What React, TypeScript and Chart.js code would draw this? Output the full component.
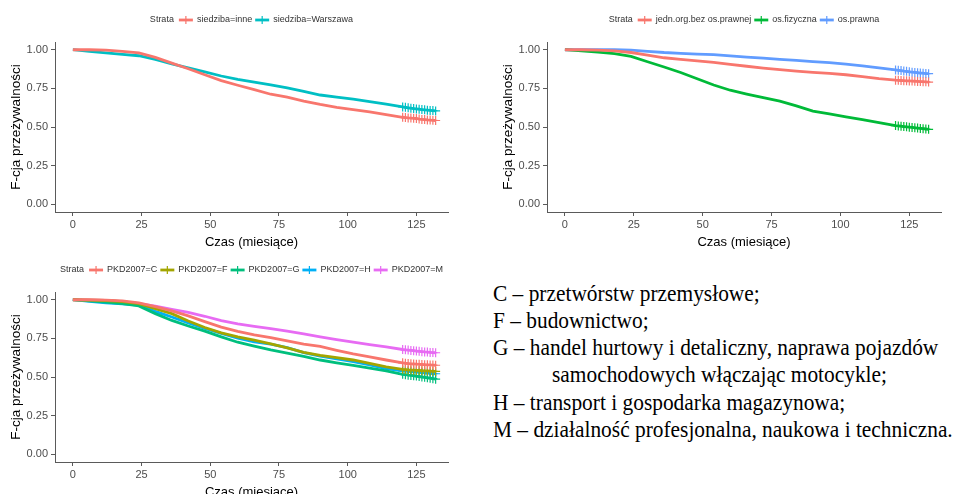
import React, { useEffect, useRef } from "react";
import { Chart, registerables } from "chart.js";

Chart.register(...registerables);

// ---------- data ----------
const xTicks = [0, 25, 50, 75, 100, 125];
const yTicks = [0, 0.25, 0.5, 0.75, 1];
const censorStart = 120;
const times = [0, 6, 12, 18, 24, 30, 36, 42, 48, 54, 60, 66, 72, 78, 84, 90, 96, 102, 108, 114,
  120, 121, 122, 123, 124, 125, 126, 127, 128, 129, 130, 131, 132];

const xTitle = "Czas (miesiące)";
const yTitle = "F-cja przeżywalności";

// panel 1: siedziba
const siedzibaInne = [1.0, 1.0, 0.998, 0.99, 0.98, 0.95, 0.913, 0.877, 0.838, 0.8, 0.77, 0.742, 0.712, 0.693, 0.668, 0.646, 0.627, 0.613, 0.598, 0.58,
  0.563, 0.561, 0.559, 0.558, 0.556, 0.555, 0.551, 0.549, 0.548, 0.546, 0.545, 0.543, 0.542];
const siedzibaWarszawa = [1.0, 0.99, 0.979, 0.97, 0.961, 0.937, 0.908, 0.882, 0.857, 0.83, 0.808, 0.79, 0.772, 0.753, 0.73, 0.707, 0.694, 0.68, 0.664, 0.648,
  0.63, 0.627, 0.624, 0.622, 0.619, 0.617, 0.615, 0.613, 0.611, 0.609, 0.607, 0.606, 0.604];

// panel 2: forma prawna
const jednOrg = [1.0, 1.0, 0.997, 0.992, 0.982, 0.965, 0.948, 0.937, 0.928, 0.918, 0.905, 0.893, 0.881, 0.871, 0.862, 0.854, 0.847, 0.838, 0.826, 0.813,
  0.803, 0.802, 0.801, 0.8, 0.799, 0.798, 0.797, 0.796, 0.795, 0.794, 0.793, 0.792, 0.791];
const osFizyczna = [1.0, 0.993, 0.985, 0.975, 0.957, 0.922, 0.888, 0.853, 0.812, 0.772, 0.738, 0.713, 0.69, 0.668, 0.637, 0.603, 0.585, 0.566, 0.548, 0.528,
  0.509, 0.507, 0.505, 0.503, 0.501, 0.499, 0.497, 0.495, 0.493, 0.491, 0.489, 0.487, 0.485];
const osPrawna = [1.0, 1.0, 1.0, 1.0, 0.998, 0.99, 0.982, 0.977, 0.972, 0.968, 0.96, 0.952, 0.945, 0.937, 0.931, 0.923, 0.916, 0.907, 0.896, 0.882,
  0.869, 0.867, 0.865, 0.862, 0.86, 0.857, 0.855, 0.853, 0.851, 0.849, 0.848, 0.846, 0.845];

// panel 3: PKD2007
const pkdC = [1.0, 1.0, 0.997, 0.992, 0.98, 0.955, 0.928, 0.895, 0.858, 0.823, 0.795, 0.772, 0.755, 0.733, 0.713, 0.698, 0.673, 0.65, 0.63, 0.61,
  0.592, 0.589, 0.587, 0.585, 0.584, 0.583, 0.582, 0.581, 0.58, 0.579, 0.578, 0.577, 0.576];
const pkdF = [1.0, 0.998, 0.995, 0.988, 0.975, 0.943, 0.91, 0.862, 0.82, 0.785, 0.76, 0.738, 0.715, 0.688, 0.66, 0.64, 0.625, 0.61, 0.588, 0.565,
  0.55, 0.548, 0.546, 0.545, 0.544, 0.543, 0.542, 0.541, 0.54, 0.539, 0.538, 0.537, 0.536];
const pkdG = [1.0, 0.992, 0.985, 0.975, 0.96, 0.91, 0.866, 0.83, 0.797, 0.76, 0.725, 0.7, 0.675, 0.655, 0.633, 0.61, 0.592, 0.575, 0.558, 0.54,
  0.517, 0.515, 0.512, 0.51, 0.508, 0.506, 0.503, 0.5, 0.498, 0.495, 0.492, 0.489, 0.486];
const pkdH = [1.0, 0.99, 0.98, 0.973, 0.965, 0.925, 0.888, 0.85, 0.815, 0.782, 0.752, 0.728, 0.712, 0.69, 0.658, 0.635, 0.617, 0.6, 0.578, 0.555,
  0.54, 0.538, 0.536, 0.535, 0.533, 0.532, 0.53, 0.529, 0.527, 0.526, 0.524, 0.522, 0.521];
const pkdM = [1.0, 0.998, 0.995, 0.988, 0.975, 0.958, 0.937, 0.918, 0.893, 0.865, 0.843, 0.828, 0.813, 0.797, 0.779, 0.76, 0.742, 0.725, 0.71, 0.695,
  0.678, 0.676, 0.674, 0.672, 0.67, 0.668, 0.666, 0.664, 0.662, 0.661, 0.659, 0.658, 0.657];

const panel1Series = [
  { label: "siedziba=inne", color: "#F8766D", values: siedzibaInne },
  { label: "siedziba=Warszawa", color: "#00BFC4", values: siedzibaWarszawa },
];
const panel2Series = [
  { label: "jedn.org.bez os.prawnej", color: "#F8766D", values: jednOrg },
  { label: "os.fizyczna", color: "#00BA38", values: osFizyczna },
  { label: "os.prawna", color: "#619CFF", values: osPrawna },
];
const panel3Series = [
  { label: "PKD2007=C", color: "#F8766D", values: pkdC },
  { label: "PKD2007=F", color: "#A3A500", values: pkdF },
  { label: "PKD2007=G", color: "#00BF7D", values: pkdG },
  { label: "PKD2007=H", color: "#00B0F6", values: pkdH },
  { label: "PKD2007=M", color: "#E76BF3", values: pkdM },
];

const legendTitle = "Strata";

const textLines = [
  { text: "C – przetwórstw przemysłowe;", indent: 0 },
  { text: "F – budownictwo;", indent: 0 },
  { text: "G – handel hurtowy i detaliczny, naprawa pojazdów", indent: 0 },
  { text: "samochodowych włączając motocykle;", indent: 59 },
  { text: "H – transport i gospodarka magazynowa;", indent: 0 },
  { text: "M – działalność profesjonalna, naukowa i techniczna.", indent: 0 },
];

// ---------- chart helpers ----------
const SANS = '"Liberation Sans", Arial, sans-serif';

const strataLegend = {
  id: "strataLegend",
  afterDraw(chart: any) {
    const ctx = chart.ctx;
    const { left, right } = chart.chartArea;
    const y = 20;
    ctx.save();
    ctx.font = `9px ${SANS}`;
    ctx.textBaseline = "middle";
    ctx.textAlign = "left";
    const items = chart.data.datasets.map((d: any) => ({ label: d.label, color: d.borderColor }));
    const keyW = 14, gapTitle = 5, gapKey = 4, gapItem = 3;
    const tw = ctx.measureText(legendTitle).width;
    let total = tw + gapTitle;
    items.forEach((it: any, i: number) => {
      total += keyW + gapKey + ctx.measureText(it.label).width + (i < items.length - 1 ? gapItem : 0);
    });
    let x = (left + right) / 2 - total / 2;
    ctx.fillStyle = "#333333";
    ctx.fillText(legendTitle, x, y);
    x += tw + gapTitle;
    items.forEach((it: any) => {
      ctx.strokeStyle = it.color;
      ctx.lineWidth = 2.8;
      ctx.beginPath();
      ctx.moveTo(x, y);
      ctx.lineTo(x + keyW, y);
      ctx.stroke();
      ctx.lineWidth = 1.2;
      ctx.beginPath();
      ctx.moveTo(x + keyW / 2, y - 4);
      ctx.lineTo(x + keyW / 2, y + 4);
      ctx.stroke();
      x += keyW + gapKey;
      ctx.fillStyle = "#333333";
      ctx.fillText(it.label, x, y);
      x += ctx.measureText(it.label).width + gapItem;
    });
    ctx.restore();
  },
};

type Series = { label: string; color: string; values: number[] };

function Panel(props: { left: number; top: number; width: number; height: number; padRight: number; series: Series[] }) {
  const { left, top, width, height, padRight, series } = props;
  const ref = useRef<HTMLCanvasElement>(null);
  useEffect(() => {
    const axisColor = "#5a5a5a";
    const chart = new Chart(ref.current as HTMLCanvasElement, {
      type: "line",
      data: {
        datasets: series.map((s) => ({
          label: s.label,
          data: times.map((t, i) => ({ x: t, y: s.values[i] })),
          borderColor: s.color,
          backgroundColor: s.color,
          borderWidth: 2.8,
          tension: 0,
          fill: false,
          pointStyle: "cross",
          pointRadius: (c: any) => (c.raw && c.raw.x >= censorStart ? 4.5 : 0),
          pointHoverRadius: 0,
          pointBorderWidth: 1.2,
          pointBorderColor: s.color,
        })),
      },
      options: {
        responsive: false,
        animation: false,
        events: [],
        layout: { padding: { top: 42, right: padRight, bottom: 0, left: 0 } },
        plugins: { legend: { display: false }, tooltip: { enabled: false } },
        scales: {
          x: {
            type: "linear",
            min: -6.5,
            max: 136.5,
            afterBuildTicks: (s: any) => {
              s.ticks = xTicks.map((v) => ({ value: v }));
            },
            afterFit: (s: any) => {
              s.height = 38;
            },
            ticks: { font: { size: 11, family: SANS }, color: "#4D4D4D", padding: 2, maxRotation: 0 },
            grid: { drawOnChartArea: false, drawTicks: true, tickLength: 4, color: axisColor },
            border: { display: true, color: axisColor, width: 1 },
            title: { display: true, text: xTitle, color: "#000", font: { size: 13, family: SANS }, padding: { top: 3, bottom: 0 } },
          },
          y: {
            type: "linear",
            min: -0.05,
            max: 1.05,
            afterBuildTicks: (s: any) => {
              s.ticks = yTicks.map((v) => ({ value: v }));
            },
            afterFit: (s: any) => {
              s.width = 55;
            },
            ticks: {
              font: { size: 11, family: SANS },
              color: "#4D4D4D",
              padding: 3,
              callback: (v: any) => Number(v).toFixed(2),
            },
            grid: { drawOnChartArea: false, drawTicks: true, tickLength: 4, color: axisColor },
            border: { display: true, color: axisColor, width: 1 },
            title: { display: true, text: yTitle, color: "#000", font: { size: 13.5, family: SANS }, padding: { top: 8, bottom: 0 } },
          },
        },
      } as any,
      plugins: [strataLegend],
    });
    return () => chart.destroy();
  }, []);
  return (
    <canvas
      ref={ref}
      width={width}
      height={height}
      style={{ position: "absolute", left, top, width, height, display: "block" }}
    />
  );
}

export default function App() {
  const baseline0 = 301;
  const lineStep = 27.2;
  const fontSize = 23;
  return (
    <div
      style={{
        position: "absolute",
        left: 0,
        top: 0,
        width: 957,
        height: 494,
        overflow: "hidden",
        background: "#fff",
      }}
    >
      <Panel left={0} top={0} width={480} height={250} padRight={32} series={panel1Series} />
      <Panel left={492} top={0} width={465} height={250} padRight={16} series={panel2Series} />
      <Panel left={0} top={250} width={480} height={250} padRight={32} series={panel3Series} />
      {textLines.map((l, i) => (
        <div
          key={i}
          style={{
            position: "absolute",
            left: 493 + l.indent,
            top: baseline0 + i * lineStep - fontSize * 0.8375,
            fontFamily: '"Liberation Serif", "Times New Roman", serif',
            fontSize,
            lineHeight: `${fontSize}px`,
            whiteSpace: "nowrap",
            color: "#000",
            transform: "scaleX(0.93)",
            transformOrigin: "left top",
          }}
        >
          {l.text}
        </div>
      ))}
    </div>
  );
}
